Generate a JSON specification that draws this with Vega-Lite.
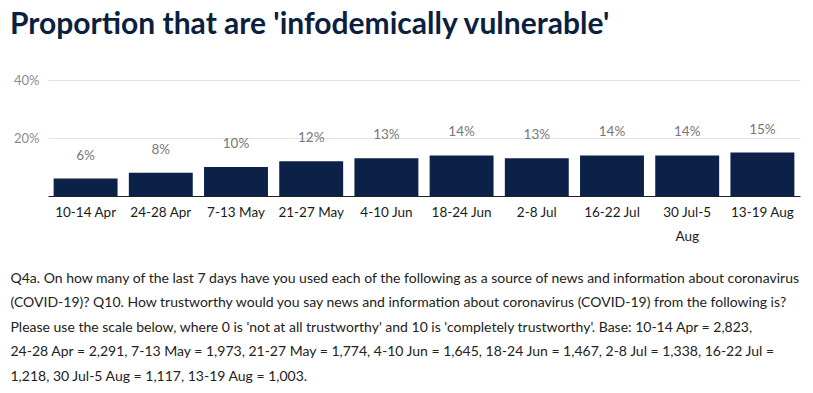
{
  "$schema": "https://vega.github.io/schema/vega-lite/v6.json",
  "width": 752,
  "height": 116,
  "autosize": {"type": "pad"},
  "padding": {"left": 10, "top": 10, "right": 13, "bottom": 6},
  "background": "white",
  "title": {
    "text": "Proportion that are 'infodemically vulnerable'",
    "anchor": "start",
    "font": "Lato",
    "fontSize": 30,
    "fontWeight": "bold",
    "color": "#0b1f41",
    "offset": 34
  },
  "data": {
    "values": [
      {"period": "10-14 Apr", "share": 0.06},
      {"period": "24-28 Apr", "share": 0.08},
      {"period": "7-13 May", "share": 0.10},
      {"period": "21-27 May", "share": 0.12},
      {"period": "4-10 Jun", "share": 0.13},
      {"period": "18-24 Jun", "share": 0.14},
      {"period": "2-8 Jul", "share": 0.13},
      {"period": "16-22 Jul", "share": 0.14},
      {"period": "30 Jul-5 Aug", "share": 0.14},
      {"period": "13-19 Aug", "share": 0.15}
    ]
  },
  "encoding": {
    "x": {
      "field": "period",
      "type": "nominal",
      "sort": null,
      "scale": {"paddingInner": 0.15, "paddingOuter": 0.075},
      "axis": {
        "labelAngle": 0,
        "labelFont": "Lato",
        "labelFontSize": 13.5,
        "labelColor": "#1a1a1a",
        "labelPadding": 9,
        "labelLineHeight": 24,
        "labelExpr": "datum.label == '30 Jul-5 Aug' ? ['30 Jul-5', 'Aug'] : datum.label",
        "ticks": false,
        "domain": true,
        "domainColor": "#222222",
        "domainWidth": 1,
        "title": [
          "Q4a. On how many of the last 7 days have you used each of the following as a source of news and information about coronavirus",
          "(COVID-19)? Q10. How trustworthy would you say news and information about coronavirus (COVID-19) from the following is?",
          "Please use the scale below, where 0 is 'not at all trustworthy' and 10 is 'completely trustworthy'. Base: 10-14 Apr = 2,823,",
          "24-28 Apr = 2,291, 7-13 May = 1,973, 21-27 May = 1,774, 4-10 Jun = 1,645, 18-24 Jun = 1,467, 2-8 Jul = 1,338, 16-22 Jul =",
          "1,218, 30 Jul-5 Aug = 1,117, 13-19 Aug = 1,003."
        ],
        "titleFont": "Lato",
        "titleFontSize": 14,
        "titleFontWeight": "normal",
        "titleColor": "#222222",
        "titleLineHeight": 24.5,
        "titleAlign": "left",
        "titleBaseline": "top",
        "titleAnchor": "start",
        "titleX": -38,
        "titleY": 75
      }
    },
    "y": {
      "field": "share",
      "type": "quantitative",
      "scale": {"domain": [0, 0.4]},
      "axis": {
        "values": [0.2, 0.4],
        "format": ".0%",
        "title": null,
        "domain": false,
        "ticks": false,
        "grid": true,
        "gridColor": "#e3e3e3",
        "gridWidth": 1,
        "labelFont": "Lato",
        "labelFontSize": 13,
        "labelColor": "#8c8c8c",
        "labelPadding": 9
      }
    }
  },
  "layer": [
    {"mark": {"type": "bar", "color": "#0b2148"}},
    {
      "mark": {"type": "text", "baseline": "bottom", "dy": -16, "font": "Lato", "fontSize": 13.5, "color": "#777777"},
      "encoding": {"text": {"field": "share", "type": "quantitative", "format": ".0%"}}
    }
  ],
  "config": {"view": {"stroke": null}}
}
